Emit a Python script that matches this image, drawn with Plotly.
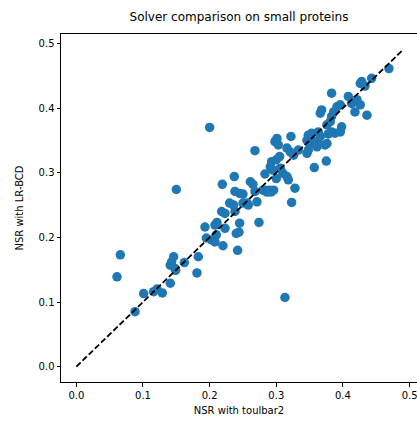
import plotly.graph_objects as go

# NSR values
nsr_toulbar2 = [
    0.061, 0.066, 0.088, 0.101, 0.116, 0.121, 0.129, 0.141, 0.141, 0.143,
    0.146, 0.148, 0.149, 0.162, 0.181, 0.183, 0.150, 0.200, 0.313,
    0.193, 0.195, 0.203, 0.208, 0.210, 0.208, 0.211, 0.218, 0.220, 0.223,
    0.223, 0.219, 0.230, 0.236, 0.237, 0.238, 0.238, 0.240, 0.242, 0.244,
    0.245, 0.245, 0.250, 0.250, 0.256, 0.258, 0.261, 0.265, 0.268, 0.268,
    0.271, 0.274, 0.280, 0.283, 0.283, 0.286, 0.290, 0.291, 0.292, 0.293,
    0.295, 0.296, 0.298, 0.300, 0.301, 0.300, 0.303, 0.305, 0.306, 0.310,
    0.316, 0.316, 0.318, 0.321, 0.322, 0.323, 0.326, 0.328, 0.333, 0.346,
    0.346, 0.348, 0.348, 0.351, 0.353, 0.357, 0.358, 0.361, 0.363, 0.363,
    0.366, 0.366, 0.368, 0.373, 0.375, 0.376, 0.376, 0.378, 0.381, 0.383,
    0.383, 0.383, 0.386, 0.388, 0.391, 0.396, 0.396, 0.398, 0.408, 0.413,
    0.418, 0.418, 0.421, 0.426, 0.426, 0.428, 0.433, 0.436, 0.443, 0.469,
]
nsr_lrbcd = [
    0.139, 0.173, 0.085, 0.113, 0.116, 0.120, 0.114, 0.129, 0.157, 0.162,
    0.170, 0.152, 0.149, 0.161, 0.145, 0.170, 0.274, 0.370, 0.107,
    0.216, 0.199, 0.196, 0.193, 0.204, 0.219, 0.223, 0.240, 0.187, 0.214,
    0.237, 0.282, 0.253, 0.250, 0.294, 0.271, 0.240, 0.206, 0.180, 0.208,
    0.222, 0.268, 0.253, 0.267, 0.253, 0.250, 0.286, 0.282, 0.271, 0.334,
    0.255, 0.223, 0.273, 0.298, 0.273, 0.270, 0.273, 0.309, 0.270, 0.317,
    0.304, 0.273, 0.348, 0.291, 0.353, 0.320, 0.343, 0.325, 0.307, 0.299,
    0.294, 0.338, 0.289, 0.332, 0.356, 0.254, 0.327, 0.276, 0.335, 0.330,
    0.350, 0.335, 0.358, 0.345, 0.361, 0.308, 0.348, 0.340, 0.345, 0.363,
    0.356, 0.392, 0.397, 0.343, 0.318, 0.345, 0.374, 0.360, 0.379, 0.387,
    0.363, 0.423, 0.394, 0.361, 0.402, 0.405, 0.363, 0.371, 0.418, 0.407,
    0.394, 0.410, 0.413, 0.405, 0.438, 0.441, 0.434, 0.389, 0.446, 0.461,
]
diag = [0.0, 0.49]
tick_vals = [0.0, 0.1, 0.2, 0.3, 0.4, 0.5]
tick_text = ["0.0", "0.1", "0.2", "0.3", "0.4", "0.5"]

fig = go.Figure()
fig.add_trace(go.Scatter(
    x=nsr_toulbar2, y=nsr_lrbcd, mode="markers",
    marker=dict(color="#1f77b4", size=9.5, line=dict(width=0)),
    showlegend=False,
))
fig.add_trace(go.Scatter(
    x=diag, y=diag, mode="lines",
    line=dict(color="black", width=1.8, dash="6px,2.6px"),
    showlegend=False,
))

axis_common = dict(
    showgrid=False, zeroline=False, automargin=False,
    showline=True, linecolor="black", linewidth=1,
    ticks="outside", ticklen=3.5, tickwidth=1, tickcolor="black",
    tickvals=tick_vals, ticktext=tick_text, ticklabeloverflow="allow",
    tickfont=dict(family="DejaVu Sans", size=10, color="black"),
)
fig.update_layout(
    width=417, height=422,
    margin=dict(l=61, r=0, t=34, b=40),
    paper_bgcolor="white", plot_bgcolor="white",
    font=dict(family="DejaVu Sans", size=10, color="black"),
    title=dict(text="Solver comparison on small proteins", x=0.5, xref="paper",
               xanchor="center", y=1, yref="container", yanchor="top", pad=dict(t=13),
               font=dict(family="DejaVu Sans", size=12, color="black")),
    xaxis=dict(range=[-0.0230, 0.5111], mirror=True,
               title=dict(text="NSR with toulbar2", standoff=7,
                          font=dict(family="DejaVu Sans", size=10, color="black")),
               **axis_common),
    yaxis=dict(range=[-0.0237, 0.5145], mirror=False,
               title=dict(text="NSR with LR-BCD", standoff=13,
                          font=dict(family="DejaVu Sans", size=10, color="black")),
               **axis_common),
)
fig.write_html("out.html", config={"displayModeBar": False},
               post_script="document.body.style.margin='0';document.body.style.overflow='hidden';")
